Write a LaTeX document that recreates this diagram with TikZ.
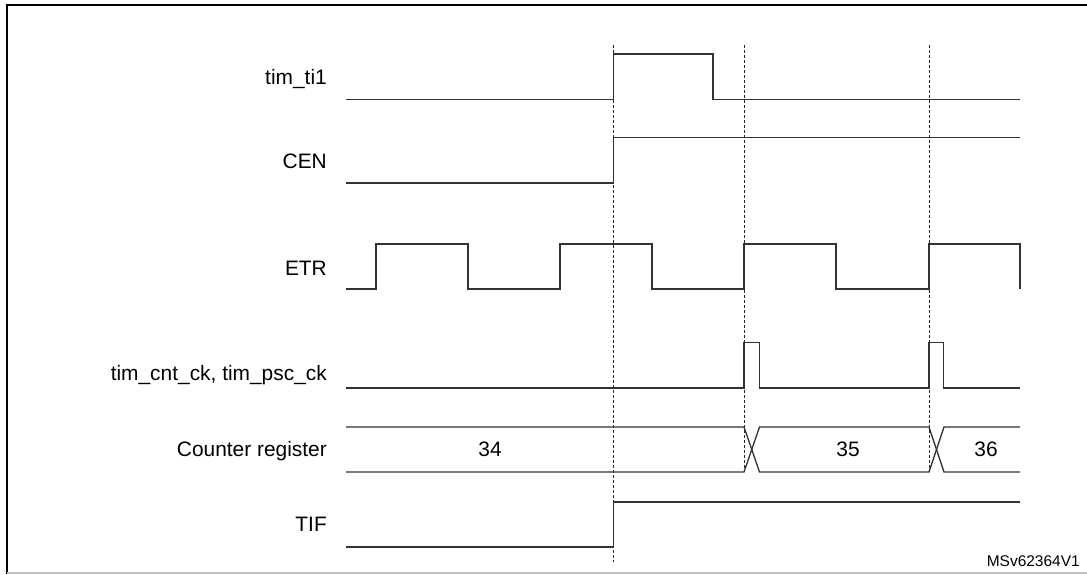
\documentclass[tikz,border=0pt]{standalone}
\usepackage{fontspec}
\setmainfont{Liberation Sans}
\begin{document}
\begin{tikzpicture}[x=1pt,y=-1pt,
  sig/.style={draw=black!80,line width=1.3pt,line join=miter},
  guide/.style={draw=black!85,line width=1pt,dash pattern=on 3pt off 2pt},
  lbl/.style={anchor=base east,inner sep=0pt,font=\fontsize{20.9}{24}\selectfont},
  val/.style={anchor=base,inner sep=0pt,font=\fontsize{20.9}{24}\selectfont},
  frame/.style={draw=black,line width=2pt}]
\useasboundingbox (0,0) rectangle (1087,574);
% frame
\draw[frame] (7,574) -- (7,5) -- (1090,5);
\draw[draw=black!25,line width=1.5pt] (7,573) -- (1090,573);
% labels
\node[lbl] (lti) at (327,84.3) {tim\_ti1};
\node[lbl] (lcen) at (327,168.3) {CEN};
\node[lbl] (letr) at (327,275.7) {ETR};
\node[lbl] (lck) at (327,380.7) {tim\_cnt\_ck, tim\_psc\_ck};
\node[lbl] (lcnt) at (327,456) {Counter register};
\node[lbl] (ltif) at (327,531.7) {TIF};
% guides
\coordinate (g1t) at (613.5,45); \coordinate (g1b) at (613.5,562);
\coordinate (g2t) at (744,45); \coordinate (g2b) at (744,472);
\coordinate (g3t) at (929,45); \coordinate (g3b) at (929,472);
\draw[guide] (g1t) -- (g1b);
\draw[guide] (g2t) -- (g2b);
\draw[guide] (g3t) -- (g3b);
% tim_ti1
\draw[sig] (346,99.5) -- (613.5,99.5) -- (613.5,54) -- (713,54) -- (713,99.5) -- (1020,99.5);
% CEN
\draw[sig] (346,183) -- (613.5,183) -- (613.5,137.5) -- (1020,137.5);
% ETR
\draw[sig] (346,289) -- (376,289) -- (376,244) -- (468,244) -- (468,289) -- (560,289) -- (560,244) -- (652,244) -- (652,289) -- (744,289) -- (744,244) -- (836,244) -- (836,289) -- (929,289) -- (929,244) -- (1020,244) -- (1020,289);
% tim_cnt_ck
\draw[sig] (346,388) -- (744,388) -- (744,342.5) -- (759.5,342.5) -- (759.5,388) -- (929,388) -- (929,342.5) -- (943.5,342.5) -- (943.5,388) -- (1020,388);
% counter register
\draw[sig] (346,427) -- (744,427) -- (759.5,472) -- (929,472) -- (944,427) -- (1020,427);
\draw[sig] (346,472) -- (744,472) -- (759.5,427) -- (929,427) -- (944,472) -- (1020,472);
\node[val] (v34) at (490,456.5) {34};
\node[val] (v35) at (848,456.5) {35};
\node[val] (v36) at (986,456.5) {36};
% TIF
\draw[sig] (346,547) -- (613.5,547) -- (613.5,502) -- (1020,502);
% id
\node[anchor=base east,inner sep=0pt,font=\fontsize{15.5}{18}\selectfont] (id) at (1080,566.7) {MSv62364V1};
\end{tikzpicture}
\end{document}
